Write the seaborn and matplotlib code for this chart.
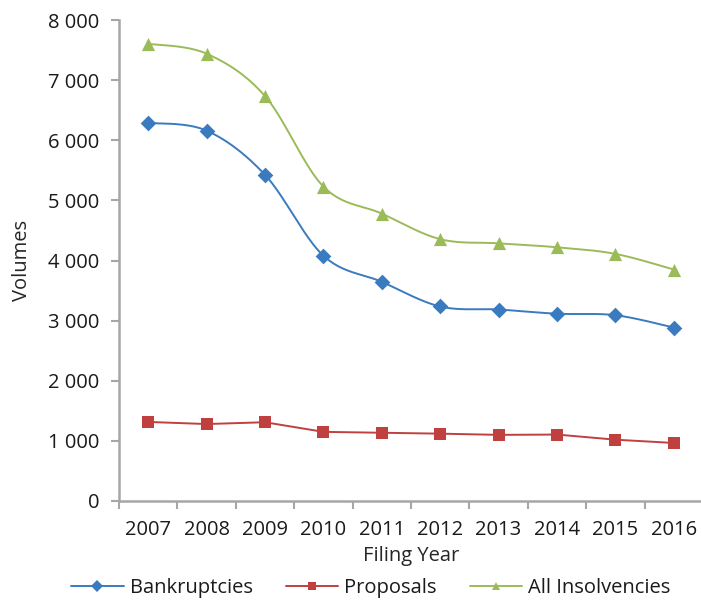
import numpy as np
import pandas as pd
import matplotlib
matplotlib.use("Agg")
import matplotlib.pyplot as plt
from matplotlib.lines import Line2D
from matplotlib.ticker import FixedLocator, FuncFormatter
import seaborn as sns

# Insolvency filings per year
years = ["2007", "2008", "2009", "2010", "2011", "2012", "2013", "2014", "2015", "2016"]
bankruptcies = [6290, 6160, 5425, 4080, 3645, 3235, 3185, 3115, 3090, 2885]
proposals = [1315, 1280, 1310, 1150, 1135, 1120, 1100, 1105, 1020, 965]
all_insolvencies = [7605, 7440, 6735, 5230, 4780, 4355, 4285, 4220, 4110, 3850]

series_names = ["Bankruptcies", "Proposals", "All Insolvencies"]
series_values = [bankruptcies, proposals, all_insolvencies]
colors = ["#3A7BC0", "#C0403F", "#9BBB59"]
markers = ["D", "s", "^"]
smooth = [True, False, True]

sns.set_theme(style="white")
plt.rcParams["font.family"] = ["Open Sans", "DejaVu Sans"]
plt.rcParams["text.color"] = "#1a1a1a"


def bezier_smooth(x, y, n=40):
    """Piecewise cubic Bezier through the points, Catmull-Rom style tangents."""
    x = np.asarray(x, float)
    y = np.asarray(y, float)
    px = np.concatenate([[x[0]], x, [x[-1]]])
    py = np.concatenate([[y[0]], y, [y[-1]]])
    out_x, out_y = [], []
    t = np.linspace(0, 1, n)
    for i in range(len(x) - 1):
        p0 = np.array([px[i + 1], py[i + 1]])
        p3 = np.array([px[i + 2], py[i + 2]])
        c1 = p0 + (np.array([px[i + 2], py[i + 2]]) - np.array([px[i], py[i]])) / 6
        c2 = p3 - (np.array([px[i + 3], py[i + 3]]) - np.array([px[i + 1], py[i + 1]])) / 6
        seg = ((1 - t) ** 3)[:, None] * p0 + (3 * (1 - t) ** 2 * t)[:, None] * c1 \
            + (3 * (1 - t) * t ** 2)[:, None] * c2 + (t ** 3)[:, None] * p3
        out_x.extend(seg[:, 0])
        out_y.extend(seg[:, 1])
    return np.array(out_x), np.array(out_y)


fig = plt.figure(figsize=(7.01, 6.04), dpi=100)
ax = fig.add_axes([119 / 701, 1 - 501 / 604, 584 / 701, 481 / 604])

xpos = np.arange(len(years))
for name, vals, col, mk, sm in zip(series_names, series_values, colors, markers, smooth):
    if sm:
        sx, sy = bezier_smooth(xpos, vals)
    else:
        sx, sy = xpos.astype(float), np.asarray(vals, float)
    line_df = pd.DataFrame({"x": sx, "y": sy})
    sns.lineplot(data=line_df, x="x", y="y", ax=ax, color=col, linewidth=1.4,
                 sort=False, estimator=None)
    pt_df = pd.DataFrame({"x": xpos, "y": vals})
    msize = 64 if mk != "^" else 90
    sns.scatterplot(data=pt_df, x="x", y="y", ax=ax, color=col, marker=mk,
                    s=msize, linewidth=0, zorder=3)

ax.set_xlim(-0.5, len(years) - 0.5)
ax.set_ylim(0, 8000)

# category ticks between years, labels centred on each year
ax.xaxis.set_major_locator(FixedLocator(np.arange(-0.5, len(years), 1.0)))
ax.xaxis.set_minor_locator(FixedLocator(xpos))
ax.set_xticklabels([])
ax.set_xticklabels(years, minor=True)
ax.tick_params(axis="x", which="major", length=6, width=1.5, color="#A6A6A6",
               direction="out", bottom=True)
ax.tick_params(axis="x", which="minor", length=0, pad=14, labelsize=14.5,
               bottom=True, labelcolor="#1a1a1a")

ax.set_yticks(np.arange(0, 8001, 1000))
ax.yaxis.set_major_formatter(FuncFormatter(lambda v, p: f"{v:,.0f}".replace(",", " ")))
ax.tick_params(axis="y", length=6, width=1.5, color="#A6A6A6", direction="out",
               left=True, pad=8, labelsize=14.5, labelcolor="#1a1a1a")

for side in ["top", "right"]:
    ax.spines[side].set_visible(False)
for side in ["left", "bottom"]:
    ax.spines[side].set_color("#A6A6A6")
    ax.spines[side].set_linewidth(1.8)
ax.grid(False)

ax.set_xlabel("Filing Year", fontsize=14.5, labelpad=4)
ax.set_ylabel("Volumes", fontsize=14.5, labelpad=12)

handles = [Line2D([0], [0], color=c, marker=m, markersize=6, linewidth=1.4,
                  markeredgewidth=0) for c, m in zip(colors, markers)]
fig.legend(handles, series_names, loc="center", bbox_to_anchor=(371 / 701, 1 - 588 / 604),
           ncol=3, frameon=False, fontsize=14.5, handlelength=2.6, handletextpad=0.3,
           columnspacing=1.65)

fig.savefig("out.png", dpi=100, facecolor="white")
